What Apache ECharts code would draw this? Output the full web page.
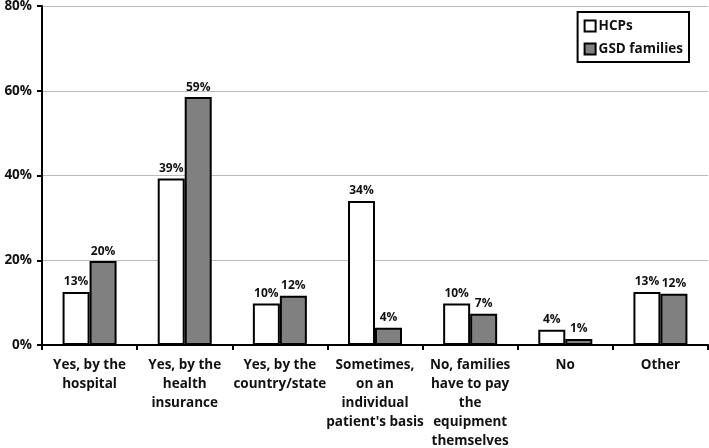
<!DOCTYPE html>
<html>
<head>
	<meta charset="utf-8">
	<title>Equipment funding</title>
	<style type="text/css">
		html, body { margin: 0; padding: 0; background: #fff; }
		#chart { width: 709px; height: 448px; }
	</style>
</head>
<body>
	<div id="chart"></div>
	<script src="https://cdn.jsdelivr.net/npm/echarts@6.0.0/dist/echarts.min.js"></script>
	<script type="text/javascript">
	const CATEGORIES = [
		'Yes, by the\nhospital',
		'Yes, by the\nhealth\ninsurance',
		'Yes, by the\ncountry/state',
		'Sometimes,\non an\nindividual\npatient\'s basis',
		'No, families\nhave to pay\nthe\nequipment\nthemselves',
		'No',
		'Other'
	];
	const HCPS = [12.5, 39.3, 9.8, 34.0, 9.8, 3.6, 12.5];
	const GSD_FAMILIES = [19.8, 58.5, 11.6, 4.1, 7.4, 1.4, 12.1];
	const Y_TICKS = [0, 20, 40, 60, 80];

	const FONT = '"Open Sans", "Liberation Sans", sans-serif';

	function barSeries(name, data, color) {
		return {
			name: name,
			type: 'bar',
			data: data,
			barWidth: 27,
			barGap: '0%',
			itemStyle: { color: color, borderColor: '#000', borderWidth: 2 },
			label: {
				show: true,
				position: 'top',
				distance: 4,
				color: '#111',
				fontFamily: FONT,
				fontWeight: 'bold',
				fontSize: 12,
				formatter: p => Math.round(p.value) + '%'
			}
		};
	}

	const chart = echarts.init(document.getElementById('chart'));
	chart.setOption({
		animation: false,
		textStyle: { fontFamily: FONT },
		grid: { left: 42, right: 1, top: 6, bottom: 103, containLabel: false, outerBoundsMode: 'none' },
		legend: {
			orient: 'vertical',
			right: 20,
			top: 12,
			itemWidth: 11,
			itemHeight: 11,
			itemGap: 9,
			padding: [7, 6, 6, 6],
			borderColor: '#000',
			borderWidth: 2,
			icon: 'rect',
			textStyle: { fontFamily: FONT, fontWeight: 'bold', fontSize: 13.5, color: '#111', padding: [0, 0, 0, -2] },
			data: ['HCPs', 'GSD families']
		},
		xAxis: {
			type: 'category',
			data: CATEGORIES,
			axisLine: { lineStyle: { color: '#000', width: 2 } },
			axisTick: { show: true, length: 5, alignWithLabel: false, lineStyle: { color: '#000', width: 2 } },
			axisLabel: {
				interval: 0,
				margin: 11,
				color: '#111',
				fontFamily: FONT,
				fontWeight: 'bold',
				fontSize: 13.5,
				lineHeight: 19
			}
		},
		yAxis: {
			type: 'value',
			min: 0,
			max: 80,
			interval: 20,
			axisLine: { show: true, lineStyle: { color: '#000', width: 2 } },
			axisTick: { show: true, length: 5, lineStyle: { color: '#000', width: 2 } },
			splitLine: { lineStyle: { color: '#bbb', width: 1 } },
			axisLabel: {
				margin: 10,
				color: '#111',
				fontFamily: FONT,
				fontWeight: 'bold',
				fontSize: 13.5,
				formatter: v => Y_TICKS.indexOf(v) >= 0 ? v + '%' : ''
			}
		},
		series: [
			barSeries('HCPs', HCPS, '#ffffff'),
			barSeries('GSD families', GSD_FAMILIES, '#808080')
		]
	});
	</script>
</body>
</html>
